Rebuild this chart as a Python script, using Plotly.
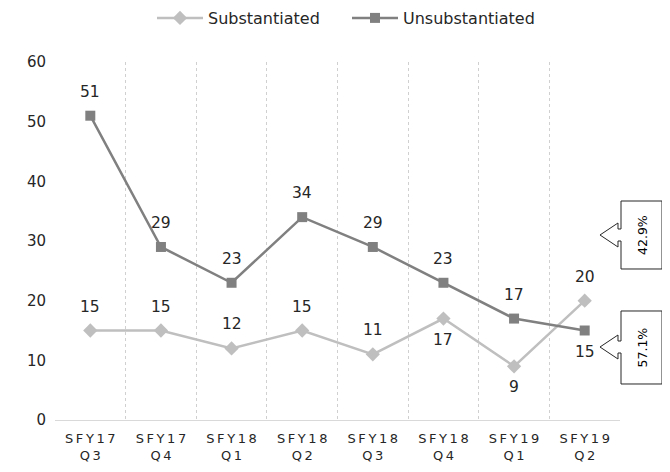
import plotly.graph_objects as go

categories = ["SFY17 Q3", "SFY17 Q4", "SFY18 Q1", "SFY18 Q2",
              "SFY18 Q3", "SFY18 Q4", "SFY19 Q1", "SFY19 Q2"]
substantiated = [15, 15, 12, 15, 11, 17, 9, 20]
unsubstantiated = [51, 29, 23, 34, 29, 23, 17, 15]
sub_label_pos = ["above", "above", "above", "above", "above", "below", "below", "above"]
unsub_label_pos = ["above"] * 7 + ["below"]
callout_texts = ["42.9%", "57.1%"]

FONT = "DejaVu Sans"
TXT = "#404040"
C_SUB = "#BFBFBF"
C_UNSUB = "#808080"

def spaced(s):
    parts = s.split(" ")
    return "<br>".join("\u2009".join(list(p)) for p in parts)

x = list(range(len(categories)))

fig = go.Figure()
fig.add_trace(go.Scatter(
    x=x, y=substantiated, mode="lines+markers", name="Substantiated",
    line=dict(color=C_SUB, width=2.5),
    marker=dict(symbol="diamond", size=11, color=C_SUB),
))
fig.add_trace(go.Scatter(
    x=x, y=unsubstantiated, mode="lines+markers", name="Unsubstantiated",
    line=dict(color=C_UNSUB, width=2.5),
    marker=dict(symbol="square", size=10, color=C_UNSUB),
))

annotations = []
for vals, pos in ((substantiated, sub_label_pos), (unsubstantiated, unsub_label_pos)):
    for xi, v, p in zip(x, vals, pos):
        annotations.append(dict(
            x=xi, y=v, text=str(v), showarrow=False,
            yshift=24 if p == "above" else -21,
            font=dict(family=FONT, size=15.5, color="#262626"),
        ))

# page body has an 8px margin; plot area in window pixels is 55..620 x 62..420
OFF = 8
L, T, W, H = 55, 62, 565, 358
def px(v):
    return (v - L) / W
def py(v):
    return (T + H - v) / H

shapes = []
callouts = [(201, 269, 235, callout_texts[0]), (311, 384, 347, callout_texts[1])]
for top, bot, cy, txt in callouts:
    pts = [(621, top), (662, top), (662, bot), (621, bot), (621, cy + 6),
           (618, cy + 6), (618, cy + 12), (600, cy), (618, cy - 12),
           (618, cy - 6), (621, cy - 6)]
    path = "M " + " L ".join(f"{px(a):.5f},{py(b):.5f}" for a, b in pts) + " Z"
    shapes.append(dict(type="path", xref="paper", yref="paper", path=path,
                       fillcolor="white", line=dict(color="#262626", width=1)))
    annotations.append(dict(
        xref="paper", yref="paper", x=px(642), y=py((top + bot) / 2),
        xanchor="center", yanchor="middle",
        text=txt, textangle=-90, showarrow=False,
        font=dict(family=FONT, size=12.5, color="#000000"),
    ))

FW, FH = 670, 472
fig.update_layout(
    width=FW, height=FH,
    margin=dict(l=L - OFF, r=FW - (L + W - OFF), t=T - OFF, b=FH - (T + H - OFF)),
    paper_bgcolor="white", plot_bgcolor="white",
    font=dict(family=FONT, size=13, color=TXT),
    showlegend=True,
    legend=dict(orientation="h", xref="container", yref="container",
                x=(152 - OFF) / FW, xanchor="left",
                y=1 - (18 - OFF) / FH, yanchor="middle",
                entrywidth=134, entrywidthmode="pixels",
                font=dict(family=FONT, size=16, color="#262626"), itemwidth=46),
    xaxis=dict(
        range=[-0.5, len(categories) - 0.5],
        tickmode="array", tickvals=x, ticktext=[spaced(c) for c in categories],
        showgrid=False, zeroline=False,
        showline=True, linecolor="#D9D9D9", linewidth=1,
        ticks="", ticklabelstandoff=6,
        tickfont=dict(family=FONT, size=13, color="#262626"),
        minor=dict(tickvals=[i - 0.5 for i in x] + [len(x) - 0.5], showgrid=True,
                   gridcolor="#D0D0D0", griddash="dot", gridwidth=1, ticks=""),
    ),
    yaxis=dict(
        range=[0, 60], dtick=10, showgrid=False, zeroline=False,
        showline=False,
        ticks="", ticklabelstandoff=8,
        tickfont=dict(family=FONT, size=15, color="#262626"),
    ),
    annotations=annotations,
    shapes=shapes,
)

fig.write_html("out.html")
